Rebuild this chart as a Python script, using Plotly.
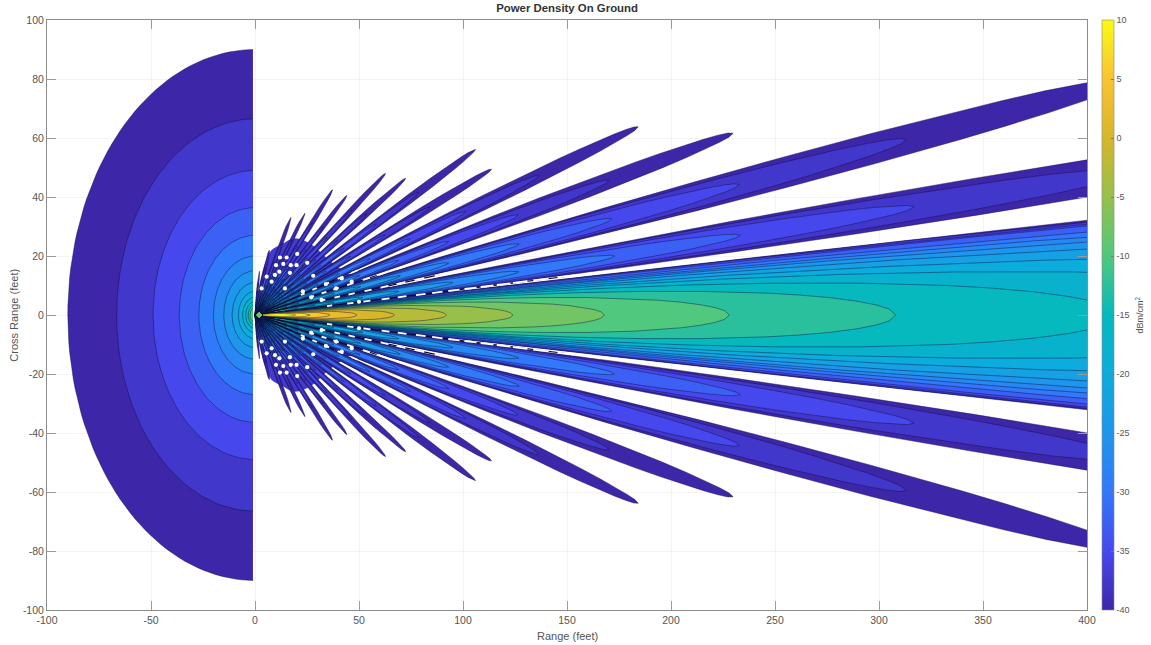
import numpy as np
import plotly.graph_objects as go

# ---- values ----
PARULA = [(62,38,168),(70,72,238),(50,120,250),(30,150,235),(12,172,220),(5,185,190),
          (80,200,125),(150,192,75),(215,182,42),(250,195,50),(249,251,20)]
LEVELS = [-40 + 2.5 * i for i in range(21)]
CB_TICKS = list(range(-40, 11, 5))
X_TICKS = list(range(-100, 401, 50))
Y_TICKS = list(range(-100, 101, 20))

# rear hemisphere: radius of each contour (feet), level -40, -37.5, ...
BACK_RADII = [90, 66.5, 49, 36.4, 27, 20, 15, 11, 8, 6, 4.5, 3.3, 2.4]

# main lobe: reach on the axis and half angle (deg) of each contour, level -40 ... +10
MAIN_TIP = [8470, 6270, 4640, 3430, 2540, 1880, 1390, 1030, 760, 563, 416, 308, 228, 168, 124, 92, 67, 49, 36, 26.5, 19.5]
MAIN_HALF = [4.74, 4.75, 4.74, 4.68, 4.52, 4.4, 4.36, 4.3, 4.2, 4.2, 4.2, 4.2, 4.2, 4.2, 4.2, 4.2, 4.2, 4.2, 4.2, 4.2, 4.2]

# side lobes: centre angle (deg), half width (deg), reach of the -40 contour (feet)
LOBE_ANGLE = [6.6, 10.75, 15.0, 19.1, 23.5, 27.9, 32.6, 37.4, 42.5, 48.7, 55.2, 62.5, 72.6, 82.0]
LOBE_HALF = [1.75, 1.95, 2.0, 2.05, 2.1, 2.2, 2.3, 2.4, 2.6, 2.9, 3.2, 3.9, 4.6, 4.0]
LOBE_REACH = [580, 431, 238, 195, 124, 120, 86, 79, 60, 56.5, 42, 37.3, 23, 15]
# reach of successive contours relative to the outermost one
REACH_RATIO = [1, .74, .55, .405, .30, .22, .165, .12, .09, .066, .05, .036]

# lobe outline: fraction of reach, fraction of half width
PROFILE_T = [0, .02, .05, .1, .15, .2, .3, .4, .5, .6, .7, .8, .85, .9, .94, .97, .99, 1]
PROFILE_W = [1, .987, .968, .936, .904, .872, .806, .738, .667, .59, .506, .41, .353, .287, .22, .155, .09, 0]

# patches where the near field lobes merge (upper half, mirrored below)
NEAR_X = [0.5, 1.5, 3, 5, 8, 13, 19, 27, 35, 45, 55, 70, 100, 100]
NEAR_Y = [0, 8, 13, 18, 22, 24, 26, 24, 19, 14, 11, 9, 7.5, 0]
NEAR2_X = [1, 3, 6, 12, 20, 30, 45, 70, 100, 100]
NEAR2_Y = [3, 9, 13, 15, 14, 10, 7.5, 6.3, 5.8, 0]

# white holes in the near field (upper half, mirrored below)
HOLE_X = [12, 15.2, 20.3, 25.1, 10.1, 13.6, 17.2, 20, 11.7, 16.8, 5.6, 9.6, 28, 34.1, 3.2, 8, 39, 41.7, 46.5, 14.4, 50, 32, 23, 27]
HOLE_Y = [19.5, 19.5, 20.7, 17.7, 16.9, 17.3, 16.9, 16.9, 14.7, 14.3, 13, 13.6, 13.3, 10.5, 9, 11.3, 9, 12.4, 11.3, 9, 4.5, 5.1, 8, 6]

# white breaks along the nulls: null angle (deg), ranges (feet) of the breaks
NULL_ANGLE = [5.0, 8.75, 12.9, 17.1]
NULL_END = [150, 90, 60, 40]
NULL_DASH_R = [
    [36, 46, 54, 63, 71, 80, 88, 96, 104, 112, 120, 128, 138, 150, 163],
    [33, 40, 47, 55, 63, 71, 80, 90, 100],
    [28, 34, 40, 47, 55, 63, 72],
    [24, 30, 36, 43, 50],
]

# the small knot at the antenna
KNOT_X = [2.0]
KNOT_Y = [0]
KNOT_LEVEL = [-8]

# ---- helpers ----
def colour(level):
    f = (level + 40) / 50 * (len(PARULA) - 1)
    i = min(int(f), len(PARULA) - 2)
    a, b = PARULA[i], PARULA[i + 1]
    c = [round(a[k] + (b[k] - a[k]) * (f - i)) for k in range(3)]
    return f"rgb({c[0]},{c[1]},{c[2]})"

LINE = "rgba(10,15,60,0.62)"
fig = go.Figure()

def poly(x, y, level):
    fig.add_trace(go.Scatter(x=x, y=y, mode="lines", fill="toself", fillcolor=colour(level),
                             line=dict(color=LINE, width=0.7), hoverinfo="skip", showlegend=False))

def leaf(angle, half, reach, sign, level):
    t = np.array(PROFILE_T); w = np.array(PROFILE_W)
    r = np.concatenate([t, t[::-1]]) * reach
    a = np.concatenate([angle + half * w, (angle - half * w)[::-1]])
    poly(r * np.cos(np.radians(a)), sign * r * np.sin(np.radians(a)), level)

# rear hemisphere
th = np.radians(np.linspace(-90, 90, 91))
for rad, lev in zip(BACK_RADII, LEVELS):
    poly(np.minimum(-rad * np.cos(th), -1.0), rad * np.sin(th), lev)

# near field patches
for px_, py_, lev in ((NEAR_X, NEAR_Y, -37), (NEAR2_X, NEAR2_Y, -31)):
    for s in (1, -1):
        fig.add_trace(go.Scatter(x=px_, y=[s * v for v in py_], mode="lines", fill="toself",
                                 fillcolor=colour(lev), line=dict(width=0, shape="spline"),
                                 hoverinfo="skip", showlegend=False))

# side lobes
for ang, half, reach in zip(LOBE_ANGLE, LOBE_HALF, LOBE_REACH):
    for ratio, lev in zip(REACH_RATIO, LEVELS):
        if reach * ratio < 5:
            break
        for s in (1, -1):
            leaf(ang, half, reach * ratio, s, lev)

# dark and white marks on the nulls
kx, ky, dx, dy = [], [], [], []
for ang, end, rs in zip(NULL_ANGLE, NULL_END, NULL_DASH_R):
    c, sn = np.cos(np.radians(ang)), np.sin(np.radians(ang))
    for s in (1, -1):
        kx += [5 * c, end * c, None]
        ky += [s * 5 * sn, s * end * sn, None]
    for r0 in rs:
        h = 0.024 * r0 + 0.4
        for s in (1, -1):
            dx += [(r0 - h) * c, (r0 + h) * c, None]
            dy += [s * (r0 - h) * sn, s * (r0 + h) * sn, None]
fig.add_trace(go.Scatter(x=kx, y=ky, mode="lines", line=dict(color="rgb(12,12,50)", width=1.1),
                         hoverinfo="skip", showlegend=False))

# main lobe
for tip, half, lev in zip(MAIN_TIP, MAIN_HALF, LEVELS):
    leaf(0, half, tip, 1, lev)

fig.add_trace(go.Scatter(x=dx, y=dy, mode="lines", line=dict(color="white", width=1.8),
                         hoverinfo="skip", showlegend=False))
fig.add_trace(go.Scatter(x=HOLE_X + HOLE_X, y=HOLE_Y + [-v for v in HOLE_Y], mode="markers",
                         marker=dict(color="white", size=4.2, line=dict(width=0)),
                         hoverinfo="skip", showlegend=False))
fig.add_trace(go.Scatter(x=KNOT_X, y=KNOT_Y, mode="markers", hoverinfo="skip", showlegend=False,
                         marker=dict(color=[colour(v) for v in KNOT_LEVEL], size=6, symbol="diamond",
                                     line=dict(color="black", width=1))))

# colour bar
scale = [[i / (len(PARULA) - 1), f"rgb{c}"] for i, c in enumerate(PARULA)]
fig.add_trace(go.Scatter(
    x=[None], y=[None], mode="markers", showlegend=False, hoverinfo="skip",
    marker=dict(color=[-40], cmin=-40, cmax=10, colorscale=scale, showscale=True,
                colorbar=dict(x=1.0144, xanchor="left", xpad=0, y=0.5, yanchor="middle", len=1, lenmode="fraction",
                              ypad=0, thickness=12, thicknessmode="pixels", outlinewidth=0.6, outlinecolor="#888",
                              tickmode="array", tickvals=CB_TICKS, ticktext=[str(v) for v in CB_TICKS],
                              ticks="inside", ticklen=3, tickcolor="#777", tickwidth=0.6,
                              tickfont=dict(size=9, color="#555")))))

axis = dict(showline=True, mirror="ticks", linecolor="#8c8c8c", linewidth=1, ticks="inside", ticklen=9,
            tickcolor="#9a9a9a", tickwidth=0.7, showgrid=True, gridcolor="rgba(0,0,0,0.045)", gridwidth=1,
            zeroline=False, automargin=False, tickfont=dict(size=10.5, color="#555"), tickmode="array")
fig.update_layout(
    width=1151, height=645, margin=dict(l=47, r=64, t=20, b=35, autoexpand=False),
    paper_bgcolor="white", plot_bgcolor="white",
    font=dict(family="Liberation Sans, Arial, sans-serif", color="#444"),
    title=dict(text="<b>Power Density On Ground</b>", x=0.4927, xanchor="center", y=0.9875, yanchor="middle",
               font=dict(size=11.4, color="#333")),
    xaxis=dict(axis, range=[-100, 400], tickvals=X_TICKS, ticktext=[str(v) for v in X_TICKS]),
    yaxis=dict(axis, range=[-100, 100], tickvals=Y_TICKS, ticktext=[str(v) for v in Y_TICKS]),
    annotations=[
        dict(text="Range (feet)", xref="paper", yref="paper", x=0.5, y=-0.044, showarrow=False, yanchor="middle",
             font=dict(size=11, color="#555")),
        dict(text="Cross Range (feet)", xref="paper", yref="paper", x=-0.032, y=0.5, showarrow=False, textangle=-90,
             xanchor="center", yanchor="middle", font=dict(size=11, color="#555")),
        dict(text="dBm/cm<sup>2</sup>", xref="paper", yref="paper", x=1.0505, y=0.5, showarrow=False, textangle=-90,
             xanchor="center", yanchor="middle", font=dict(size=9, color="#555")),
    ],
)
fig.write_html("out.html", config=dict(displayModeBar=False), post_script="document.body.style.margin='0';")
